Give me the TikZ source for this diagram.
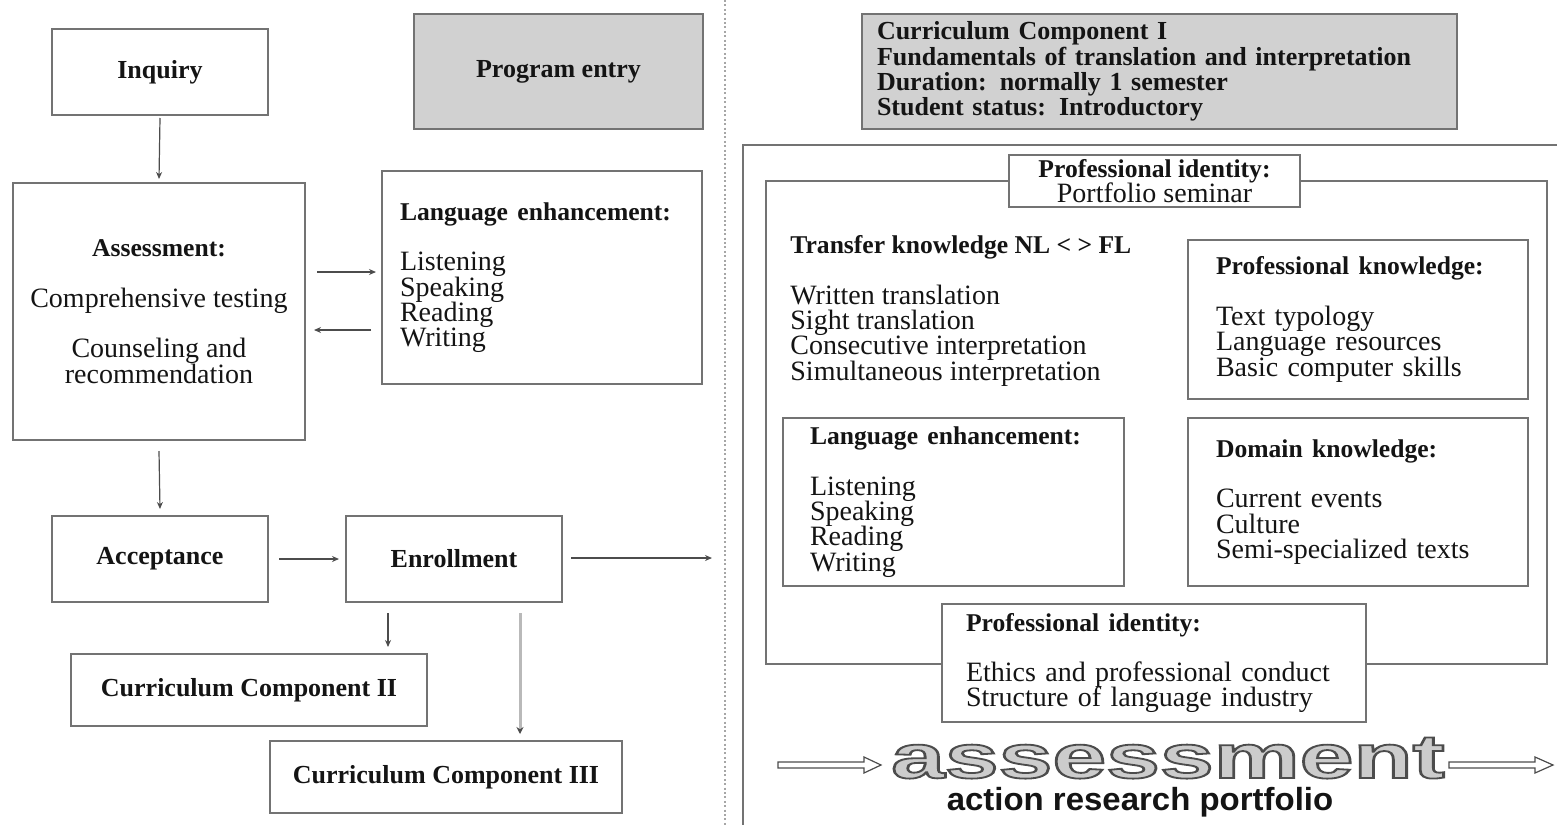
\documentclass[tikz,border=0pt]{standalone}
\usepackage{fontspec}
\usepackage{graphicx}
\setmainfont{Liberation Serif}
\newfontfamily\logofont{Liberation Sans}
\usetikzlibrary{arrows.meta,calc}

\definecolor{boxgray}{gray}{0.45}
\definecolor{fillgray}{gray}{0.82}
\definecolor{ink}{gray}{0.08}

% tight leading for the stacked lists
\newcommand\tightlines{\lineskiplimit=-10pt\relax}
% bold heading inside a box
\newcommand\boxhead[1]{{\fontsize{12.8}{12.65}\selectfont\bfseries #1}}

\tikzset{
  txt/.style={inner sep=0pt, text=ink,
    font=\fontsize{14}{12.65}\selectfont\tightlines},
  box/.style={txt, draw=boxgray, line width=1pt},
  shaded/.style={box, fill=fillgray},
  bf/.style={font=\fontsize{13}{12.65}\selectfont\bfseries\tightlines},
  listbox/.style={align=left, inner ysep=0pt},
  arr/.style={draw=black!70, line width=0.6pt,
    -{Stealth[length=3.5pt,width=3pt]}},
  fat/.style={draw=gray!55, line width=1.5pt,
    -{Stealth[length=3.5pt,width=3.5pt,color=black!70]}},
  frame/.style={draw=boxgray, line width=1pt},
  divider/.style={draw=gray!70, line width=0.6pt, dash pattern=on 1pt off 1.2pt},
  logoarrow/.style={draw=gray!60!black, line width=0.6pt, fill=white},
}

\begin{document}
\begin{tikzpicture}[x=0.5pt,y=-0.5pt]
\useasboundingbox (0,0) rectangle (1557,825);

% ---------------- program entry (left half) ----------------
\node[box, bf, minimum width=108pt, minimum height=43pt] (inquiry) at (160,72) {Inquiry};
\node[shaded, bf, minimum width=144.5pt, minimum height=57.5pt] (entry) at (558.5,71.5) {Program entry};

\node[box, align=center, minimum width=146pt, minimum height=128.5pt] (assess) at (159,311.5)
  {\boxhead{Assessment:}\\[12.65pt] Comprehensive testing\\[12.65pt] Counseling and\\ recommendation};

\node[box, listbox, inner xsep=9pt, text width=142pt, minimum height=106.5pt] (langL) at (542,277.5)
  {\boxhead{Language enhancement:}\\[12.65pt] Listening\\ Speaking\\ Reading\\ Writing};

\node[box, bf, minimum width=108pt, minimum height=43pt] (accept) at (160,559) {Acceptance};
\node[box, bf, minimum width=108pt, minimum height=43pt] (enroll) at (454,559) {Enrollment};
\node[box, bf, minimum width=178pt, minimum height=36pt] (cc2) at (249,690) {Curriculum Component II};
\node[box, bf, minimum width=176pt, minimum height=36pt] (cc3) at (446,777) {Curriculum Component III};

\coordinate (toCC1) at (712,558);

% connectors
\draw[arr] ([yshift=-1pt]inquiry.south) -- ([yshift=1.5pt]assess.north);
\draw[arr] ([yshift=-5pt]assess.south) -- ([yshift=3pt]accept.north);
\draw[arr] ([xshift=5.5pt,yshift=19.75pt]assess.east) coordinate (a1)
  -- ($(a1 -| langL.west)+(-2.5pt,0)$);
\draw[arr] ([xshift=-5pt,yshift=-26.25pt]langL.west) coordinate (b1)
  -- ($(b1 -| assess.east)+(4pt,0)$);
\draw[arr] ([xshift=5pt]accept.east) -- ([xshift=-3pt]enroll.west);
\draw[arr] ([xshift=4pt,yshift=0.5pt]enroll.east) -- (toCC1);
\draw[arr] ([xshift=-33pt,yshift=-5pt]enroll.south) coordinate (e2)
  -- ($(e2 |- cc2.north)+(0,3pt)$);
\draw[fat] ([xshift=33pt,yshift=-5pt]enroll.south) coordinate (e3)
  -- ($(e3 |- cc3.north)+(0,3pt)$);

% dividing line
\draw[divider] (725,0) -- (725,825);

% ---------------- curriculum component I (right half) ----------------
\node[shaded, bf, listbox, inner xsep=7.5pt, text width=282.5pt, minimum height=57.5pt] (cc1) at (1159.5,71.5)
  {Curriculum Component I\\ Fundamentals of translation and interpretation\\ Duration: normally 1 semester\\ Student status: Introductory};

\draw[frame] (1557,145) -- (743,145) -- (743,825);

\node[box, minimum width=390.5pt, minimum height=241.5pt] (inner) at (1156.5,422.5) {};
\node[box, fill=white, align=center, minimum width=145.5pt, minimum height=26pt] (pidtop) at (1154.5,181)
  {\boxhead{Professional identity:}\\ Portfolio seminar};

\node[txt, align=left, anchor=west] (transfer) at (790,311)
  {\boxhead{Transfer knowledge NL < > FL}\\[12.65pt] Written translation\\ Sight translation\\ Consecutive interpretation\\ Simultaneous interpretation};

\node[box, listbox, inner xsep=14pt, text width=142pt, minimum height=79.5pt] (profk) at (1358,319.5)
  {\boxhead{Professional knowledge:}\\[12.65pt] Text typology\\ Language resources\\ Basic computer skills};

\node[box, listbox, inner xsep=13.5pt, text width=143.5pt, minimum height=84pt] (langR) at (953.5,502)
  {\boxhead{Language enhancement:}\\[12.65pt] Listening\\ Speaking\\ Reading\\ Writing};

\node[box, listbox, inner xsep=14pt, text width=142pt, minimum height=84pt] (domk) at (1358,502)
  {\boxhead{Domain knowledge:}\\[12.65pt] Current events\\ Culture\\ Semi-specialized texts};

\node[box, fill=white, listbox, inner xsep=12pt, text width=188pt, minimum height=59pt] (pidbot) at (1154,663)
  {\boxhead{Professional identity:}\\[12.65pt] Ethics and professional conduct\\ Structure of language industry};

% ---------------- assessment banner ----------------
\draw[logoarrow] (778,762) -- (864,762) -- (864,757) -- (881,765) -- (864,773) -- (864,768) -- (778,768) -- cycle;
\draw[logoarrow] (1449,762) -- (1535,762) -- (1535,757) -- (1553,765) -- (1535,773) -- (1535,768) -- (1449,768) -- cycle;

\node[inner sep=0pt, anchor=base] (banner) at (1168,778)
  {\scalebox{1.56}[1]{\logofont\bfseries\fontsize{31}{31}\selectfont\color{gray!40}%
   \special{pdf:literal direct 0.3 G 2 Tr 0.9 w}assessment\special{pdf:literal direct 0 Tr}}};
\node[inner sep=0pt, text=ink] (portfolio) at (1140,802)
  {\scalebox{1.03}[1]{\logofont\bfseries\fontsize{16}{16}\selectfont action research portfolio}};

\end{tikzpicture}
\end{document}
